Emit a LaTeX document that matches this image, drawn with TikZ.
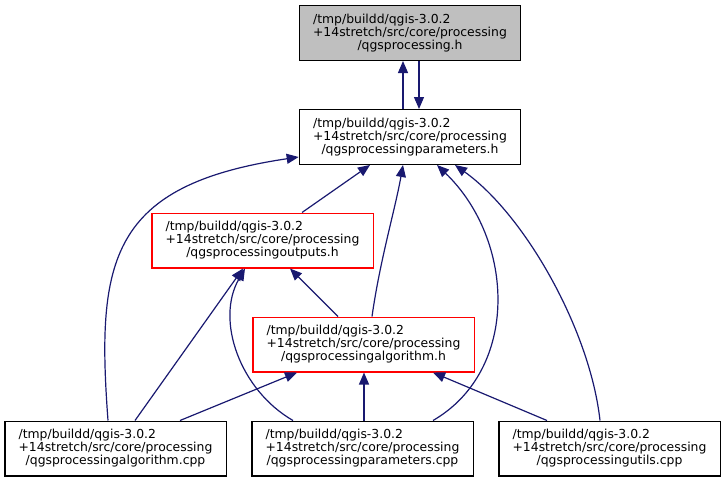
\documentclass[tikz,border=0pt]{standalone}
\usepackage{fontspec}
\setmainfont{DejaVu Sans}
\usetikzlibrary{arrows.meta}
\definecolor{edgeblue}{HTML}{191970}
\definecolor{curgray}{HTML}{BFBFBF}
\newcommand{\qpath}[1]{\rlap{/tmp/buildd/qgis-3.0.2}\phantom{+14stretch/src/core/processing}\\+14stretch/src/core/processing\\#1}
\tikzset{
  file/.style={draw=black,fill=white,line width=1pt,minimum width=166pt,minimum height=41pt,
    inner sep=0pt,align=center,font=\fontsize{9.3}{9.75}\selectfont},
  curfile/.style={file,fill=curgray},
  redfile/.style={file,draw=red},
  dep/.style={draw=edgeblue,line width=0.9pt,-{Triangle[length=9pt,width=7.5pt]}}
}

\begin{document}
\begin{tikzpicture}[x=0.75pt,y=-0.75pt]
      \useasboundingbox (0,0) rectangle (727,483);
      \node (top) at (410,33) [curfile] {\qpath{/qgsprocessing.h}};
      \node (parh) at (410,137) [file] {\qpath{/qgsprocessingparameters.h}};
      \node (outh) at (262.5,240.5) [redfile] {\qpath{/qgsprocessingoutputs.h}};
      \node (algh) at (363.5,344.5) [redfile] {\qpath{/qgsprocessingalgorithm.h}};
      \node (algcpp) at (115.5,448.5) [file] {\qpath{/qgsprocessingalgorithm.cpp}};
      \node (parcpp) at (362.5,448.5) [file] {\qpath{/qgsprocessingparameters.cpp}};
      \node (utilcpp) at (609.5,448.5) [file] {\qpath{/qgsprocessingutils.cpp}};
      % edges into the upper rows
      \draw[dep] (403,0 |- parh.north) to (403,0 |- top.south);
      \draw[dep] (419,0 |- top.south) to (419,0 |- parh.north);
      \draw[dep] (302,0 |- outh.north) to (370,0 |- parh.south);
      \draw[dep] (108,0 |- algcpp.north) .. controls (96,260) and (110,185) .. (parh.west |- 0,157);
      \draw[dep] (372,0 |- algh.north) .. controls (380,260) and (395,210) .. (403,0 |- parh.south);
      \draw[dep] (433,0 |- parcpp.north) .. controls (520,370) and (515,240) .. (437,0 |- parh.south);
      \draw[dep] (600,0 |- utilcpp.north) .. controls (590,330) and (525,215) .. (455,0 |- parh.south);
      \draw[dep] (338,0 |- algh.north) to (290,0 |- outh.south);
      \draw[dep] (135,0 |- algcpp.north) to (243,0 |- outh.south);
      \draw[dep] (293,0 |- parcpp.north) .. controls (240,390) and (215,320) .. (245,0 |- outh.south);
      % edges into the algorithm header
      \draw[dep] (180,0 |- algcpp.north) to (297,0 |- algh.south);
      \draw[dep] (364,0 |- parcpp.north) to (364,0 |- algh.south);
      \draw[dep] (547,0 |- utilcpp.north) to (433,0 |- algh.south);
    \end{tikzpicture}
\end{document}
